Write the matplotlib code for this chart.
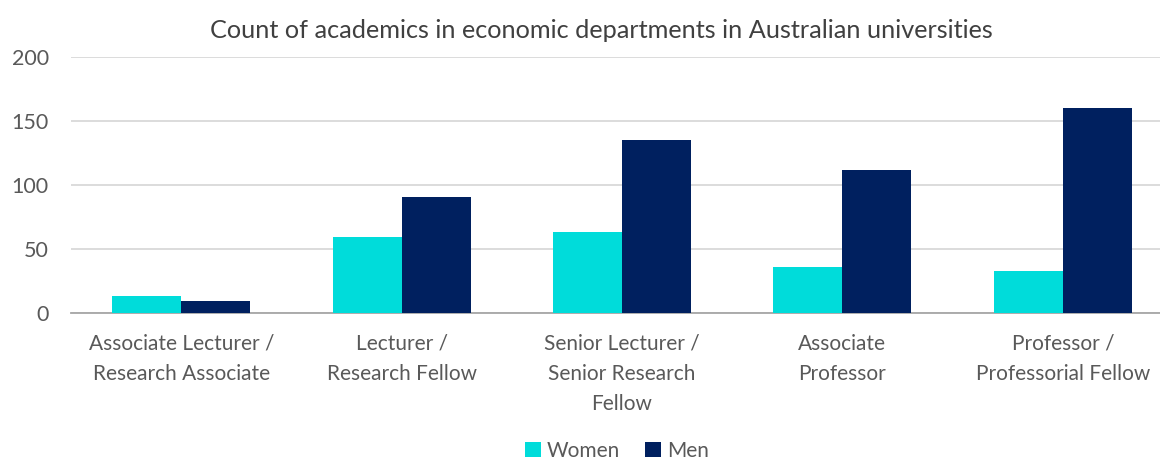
import numpy as np
import matplotlib.pyplot as plt

plt.rcParams['font.family'] = ['Lato', 'DejaVu Sans']

categories = ["Associate Lecturer /\nResearch Associate",
              "Lecturer /\nResearch Fellow",
              "Senior Lecturer /\nSenior Research\nFellow",
              "Associate\nProfessor",
              "Professor /\nProfessorial Fellow"]
women = [13, 59, 63, 36, 33]
men = [9, 91, 135, 112, 160]

women_colour = '#00DCDA'
men_colour = '#00205F'
text_colour = '#595959'

fig = plt.figure(figsize=(11.6, 4.59), dpi=100)
# plot area runs a little past the right edge of the picture, as in the original
ax = fig.add_axes([71 / 1160, 1 - 313 / 459, 1102 / 1160, 256 / 459])

x = np.arange(len(categories))
w = 0.313
ax.bar(x - w / 2, women, w, color=women_colour, label='Women', zorder=3)
ax.bar(x + w / 2, men, w, color=men_colour, label='Men', zorder=3)

ax.set_xlim(-0.5, len(categories) - 0.5)
ax.set_ylim(0, 200)
ax.set_yticks([0, 50, 100, 150, 200])
ax.yaxis.grid(True, color='#D9D9D9', linewidth=1.3, zorder=0)
ax.set_axisbelow(True)

for s in ['top', 'right', 'left']:
    ax.spines[s].set_visible(False)
ax.spines['bottom'].set_color('#A6A6A6')
ax.spines['bottom'].set_linewidth(1.3)

ax.set_xticks(x)
ax.set_xticklabels(categories, fontsize=15, color=text_colour, linespacing=1.64, va='top')
ax.tick_params(axis='x', length=0, pad=15)
ax.tick_params(axis='y', length=0, labelsize=15.5, labelcolor=text_colour, pad=16)

fig.text(0.518, 1 - 30 / 459, "Count of academics in economic departments in Australian universities",
         ha='center', va='center', fontsize=18.2, color='#404040')

fig.legend(loc='center', bbox_to_anchor=(0.532, 1 - 451 / 459), ncol=2, frameon=False,
           fontsize=15, labelcolor=text_colour, handlelength=0.75, handleheight=0.75,
           columnspacing=1.2, handletextpad=0.3)

fig.savefig('out.png', dpi=100)
